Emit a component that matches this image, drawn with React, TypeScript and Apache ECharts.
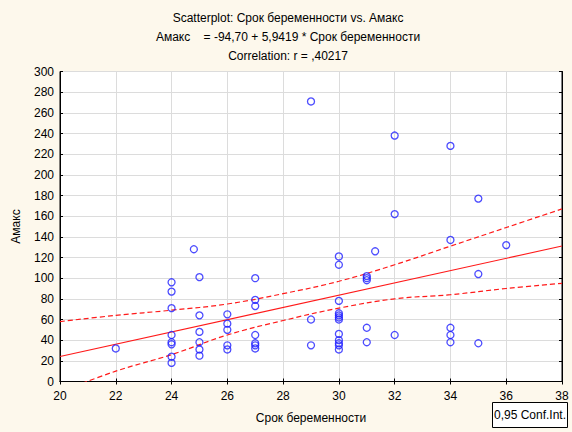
import React, { useEffect, useRef } from "react";
import * as echarts from "echarts";

// Observations: [Срок беременности, Амакс]
const gestationWeeks: number[] = [
  22,
  24, 24, 24, 24, 24, 24, 24, 24,
  24.8,
  25, 25, 25, 25, 25, 25,
  26, 26, 26, 26, 26,
  27, 27, 27, 27, 27, 27, 27,
  29, 29, 29,
  30, 30, 30, 30, 30, 30, 30, 30, 30, 30, 30, 30,
  31, 31, 31, 31, 31,
  31.3,
  32, 32, 32,
  34, 34, 34, 34, 34,
  35, 35, 35,
  36,
];
const amaxValues: number[] = [
  32,
  96, 87, 71, 45, 38, 36, 24, 18,
  128,
  101, 64, 48, 38, 31, 25,
  65, 56, 50, 35, 31,
  100, 79, 73, 45, 37, 35, 32,
  271, 60, 35,
  121, 113, 78, 66, 64, 62, 60, 46, 40, 37, 35, 31,
  102, 100, 98, 52, 38,
  126,
  238, 162, 45,
  228, 137, 52, 45, 38,
  177, 104, 37,
  132,
];

// Fitted line: Амакс = -94,70 + 5,9419 * Срок беременности
const intercept = -94.7;
const slope = 5.9419;

// 0,95 confidence band around the fitted line
const bandX: number[] = [20, 22, 24, 26, 28, 30, 32, 34, 36, 38];
const bandUpper: number[] = [58, 64, 69, 75, 85, 97, 113, 131, 149, 167];
const bandLower: number[] = [-10, 10, 26, 45, 59, 71, 80, 84, 90, 95];

const xTicks = { min: 20, max: 38, step: 2 };
const yTicks = { min: 0, max: 300, step: 20 };

const titleLines: string[] = [
  "Scatterplot: Срок беременности vs. Амакс",
  "Амакс    = -94,70 + 5,9419 * Срок беременности",
  "Correlation: r = ,40217",
];

const FONT = "'Liberation Sans', Arial, sans-serif";

export default function App() {
  const ref = useRef<HTMLDivElement>(null);

  useEffect(() => {
    if (!ref.current) return;
    const chart = echarts.init(ref.current, undefined, { renderer: "svg" });

    const scatterData = gestationWeeks.map((x, i) => [x, amaxValues[i]]);
    const fitData = [xTicks.min, xTicks.max].map((x) => [x, intercept + slope * x]);
    const upperData = bandX.map((x, i) => [x, bandUpper[i]]);
    const lowerData = bandX.map((x, i) => [x, bandLower[i]]);

    const red = "#ff1a1a";
    const axisLine = { show: true, lineStyle: { color: "#000", width: 1 } };

    chart.setOption({
      animation: false,
      backgroundColor: "#fdf8ec",
      textStyle: { fontFamily: FONT },
      grid: {
        left: 60,
        right: 10,
        top: 71.5,
        bottom: 50.5,
        show: true,
        backgroundColor: "#ffffff",
        borderColor: "#000",
        borderWidth: 1,
      },
      xAxis: [
        {
          type: "value",
          min: xTicks.min,
          max: xTicks.max,
          interval: xTicks.step,
          name: "Срок беременности",
          nameLocation: "middle",
          nameGap: 30,
          nameTextStyle: { color: "#000", fontSize: 12, fontFamily: FONT },
          axisLine,
          axisTick: { show: true, inside: true, length: 3, lineStyle: { color: "#000" } },
          axisLabel: { color: "#000", fontSize: 12, fontFamily: FONT, margin: 8 },
          splitLine: { show: true, lineStyle: { color: "#dcdcdc", width: 1 } },
        },
        {
          type: "value",
          position: "top",
          min: xTicks.min,
          max: xTicks.max,
          interval: xTicks.step,
          axisLine,
          axisTick: { show: true, inside: true, length: 3, lineStyle: { color: "#000" } },
          axisLabel: { show: false },
          splitLine: { show: false },
        },
      ],
      yAxis: [
        {
          type: "value",
          min: yTicks.min,
          max: yTicks.max,
          interval: yTicks.step,
          name: "Амакс",
          nameLocation: "middle",
          nameGap: 38,
          nameTextStyle: { color: "#000", fontSize: 12, fontFamily: FONT },
          axisLine,
          axisTick: { show: true, inside: true, length: 3, lineStyle: { color: "#000" } },
          axisLabel: { color: "#000", fontSize: 12, fontFamily: FONT, margin: 6 },
          splitLine: { show: true, lineStyle: { color: "#dcdcdc", width: 1 } },
        },
        {
          type: "value",
          position: "right",
          min: yTicks.min,
          max: yTicks.max,
          interval: yTicks.step,
          axisLine,
          axisTick: { show: true, inside: true, length: 3, lineStyle: { color: "#000" } },
          axisLabel: { show: false },
          splitLine: { show: false },
        },
      ],
      series: [
        {
          type: "line",
          data: upperData,
          smooth: 0.4,
          symbol: "none",
          clip: true,
          lineStyle: { color: red, width: 1.2, type: [5, 3] },
          z: 3,
        },
        {
          type: "line",
          data: lowerData,
          smooth: 0.4,
          symbol: "none",
          clip: true,
          lineStyle: { color: red, width: 1.2, type: [5, 3] },
          z: 3,
        },
        {
          type: "line",
          data: fitData,
          symbol: "none",
          clip: true,
          lineStyle: { color: red, width: 1.1 },
          z: 3,
        },
        {
          type: "scatter",
          data: scatterData,
          symbol: "circle",
          symbolSize: 7,
          itemStyle: { color: "rgba(255,255,255,0)", borderColor: "#1f1fff", borderWidth: 1.3 },
          z: 4,
        },
      ],
      graphic: [
        ...titleLines.map((t, i) => ({
          type: "text",
          x: 288,
          y: 18 + i * 19,
          style: {
            text: t,
            fill: "#000",
            font: `12px ${FONT}`,
            textAlign: "center",
            textVerticalAlign: "middle",
          },
        })),
        {
          type: "rect",
          shape: { x: 492.5, y: 402.5, width: 75, height: 25 },
          style: { fill: "#ffffff", stroke: "#000", lineWidth: 1 },
        },
        {
          type: "text",
          x: 530,
          y: 415,
          style: {
            text: "0,95 Conf.Int.",
            fill: "#000",
            font: `12px ${FONT}`,
            textAlign: "center",
            textVerticalAlign: "middle",
          },
        },
      ],
    });

    return () => chart.dispose();
  }, []);

  return <div ref={ref} style={{ width: 572, height: 432, position: "absolute", left: 0, top: 0 }} />;
}
